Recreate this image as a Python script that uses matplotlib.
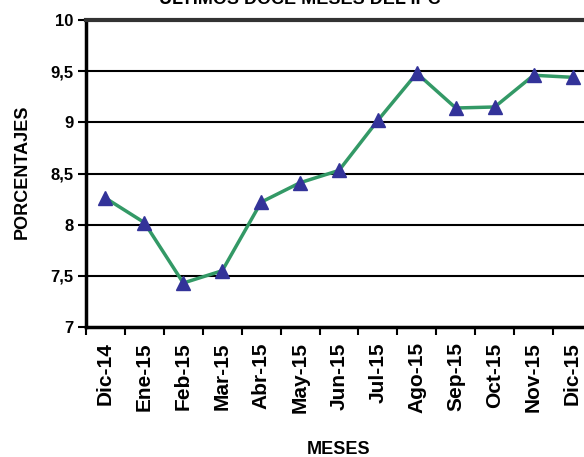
import numpy as np
import matplotlib.pyplot as plt

plt.rcParams['font.family'] = ['Liberation Sans', 'DejaVu Sans']
plt.rcParams['font.weight'] = 'bold'

meses = ['Dic-14', 'Ene-15', 'Feb-15', 'Mar-15', 'Abr-15', 'May-15', 'Jun-15',
         'Jul-15', 'Ago-15', 'Sep-15', 'Oct-15', 'Nov-15', 'Dic-15']
ipc = [8.26, 8.02, 7.43, 7.55, 8.22, 8.41, 8.53, 9.02, 9.48, 9.14, 9.15, 9.46, 9.44]
yticks = [7, 7.5, 8, 8.5, 9, 9.5, 10]
ytick_labels = ['7', '7,5', '8', '8,5', '9', '9,5', '10']

fig = plt.figure(figsize=(5.84, 4.57), dpi=100)
ax = fig.add_axes([86 / 584, 1 - 327 / 457, 506 / 584, 307 / 457])

x = np.arange(len(meses))
ax.plot(x, ipc, color='#339966', linewidth=2.5, marker='^', markersize=10,
        markerfacecolor='#333399', markeredgecolor='#333399', zorder=3)

ax.set_xlim(-0.5, len(meses) - 0.5)
ax.set_ylim(7, 10)

# lineas horizontales
for v in yticks[1:-1]:
    ax.axhline(v, color='black', linewidth=1.5, zorder=1)

ax.set_yticks(yticks)
ax.set_yticklabels(ytick_labels, fontsize=12, fontweight='bold')
ax.tick_params(axis='y', length=6, width=1.5, direction='out', pad=3)

ax.set_xticks(x)
ax.set_xticklabels(meses, rotation=90, fontsize=15, fontweight='bold')
ax.set_xticks(np.arange(len(meses) + 1) - 0.5, minor=True)
ax.tick_params(axis='x', which='major', length=0, pad=11)
ax.tick_params(axis='x', which='minor', length=6, width=1.5, direction='out')

for s in ['left', 'bottom']:
    ax.spines[s].set_linewidth(2.5)
    ax.spines[s].set_color('black')
ax.spines['top'].set_linewidth(3)
ax.spines['top'].set_color('#333333')
ax.spines['right'].set_visible(False)

fig.text(22 / 584, 1 - 172 / 457, 'PORCENTAJES', rotation=90, ha='center',
         va='center', fontsize=13, fontweight='bold')
fig.text(339 / 584, 1 - 449 / 457, 'MESES', ha='center', va='center',
         fontsize=13, fontweight='bold')
fig.text(300 / 584, 1 - 0 / 457, 'ÚLTIMOS DOCE MESES DEL IPC', ha='center',
         va='center', fontsize=13, fontweight='bold')

fig.savefig('out.png', dpi=100)
